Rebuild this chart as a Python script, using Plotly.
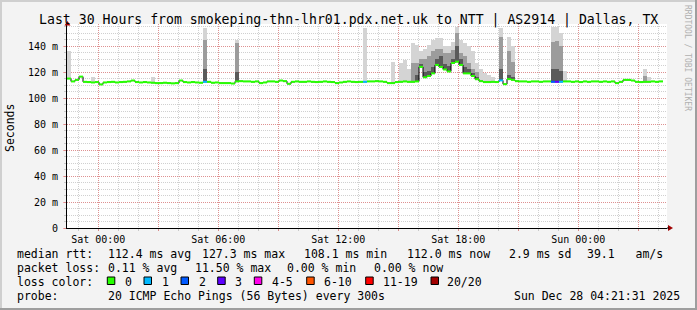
import plotly.graph_objects as go

# ---------------- data ----------------
T0 = -1.565          # hours relative to Sat 00:00 at the left edge
STEP = 0.2           # hours per bin
median_ms = [
    115, 112.8, 114, 116.5, 112.5, 112.3, 112, 112.3, 110.5, 112,
    112.3, 112.5, 112, 112.3, 112.5, 112.8, 113.5, 112.3, 112, 112.3,
    112, 111.8, 111.5, 111.5, 111.8, 111.5, 111.3, 111.5, 113.5, 112.3,
    112, 112.3, 112, 111.8, 112.5, 112.5, 111.8, 112, 111.5, 111.5,
    111.5, 111.2, 112.8, 113, 112.8, 112.8, 112.5, 112.8, 111.5, 112,
    112.8, 112.8, 112.5, 113.5, 113, 111, 112.5, 112.8, 112.5, 112.5,
    112.8, 112.5, 112.3, 112.5, 112.8, 112.5, 112.3, 111.5, 112, 112.5,
    112.8, 112.5, 112.3, 112.5, 112.5, 112.8, 112.8, 113, 112.8, 112.5,
    111.5, 111.5, 112.3, 112.5, 112.8, 112.5, 112.5, 112.8, 124, 116,
    117, 119, 125.5, 124, 122, 120.5, 127, 128, 125.5, 119,
    119, 117, 114.5, 113, 112.3, 112.3, 112.5, 112.3, 113.6, 110.7,
    114.6, 114, 113, 112.8, 112.8, 112.5, 112.8, 112.8, 112.5, 112.8,
    112.8, 112.5, 112.5, 112.5, 112.8, 112.8, 112.5, 112.8, 112.3, 112.8,
    112.5, 112.8, 112.8, 112.5, 112.8, 112.5, 112.8, 111.5, 112.5, 114,
    114, 113.5, 112.5, 112.3, 112.5, 112.5, 112.8, 112.5, 112.8, None,
]
smoke_bin   = [0, 6, 21, 34, 42, 74, 81, 83, 84, 85, 86, 87, 88, 89, 90, 91, 92, 93, 94, 95,
               96, 97, 98, 99, 100, 101, 102, 103, 104, 105, 106, 108, 110, 111, 121, 122, 123, 124, 144, 145]
smoke_light = [136, 116, 116, 154, 145, 154, 128, 127, 129, 122, 142, 141, 136, 138, 141, 145, 146, 146, 140, 140,
               143, 155, 145, 142, 140, 136, 127, 122, 119, 118, 116, 154, 147, 140, 155, 155, 150, 121, 122, 116]
smoke_mid   = [0, 0, 0, 145, 142, 0, 0, 0, 0, 0, 127, 127, 130, 130, 132, 136, 138, 138, 135, 135,
               137, 150, 135, 132, 127, 122, 120, 0, 0, 0, 0, 147, 136, 128, 143, 144, 140, 0, 117, 0]
smoke_dark  = [0, 0, 0, 122, 120, 0, 0, 0, 0, 0, 0, 118, 126, 120, 121, 124, 130, 132, 126, 125,
               130, 140, 130, 124, 122, 119, 116, 0, 0, 0, 0, 122, 118, 116, 122, 122, 121, 0, 0, 0]
loss_bin   = [34, 74, 108, 121, 122, 123]
loss_count = [1, 1, 1, 2, 3, 1]

loss_labels = ["0", "1", "2", "3", "4-5", "6-10", "11-19", "20/20"]
loss_colors = ["#26ff00", "#00b8ff", "#0059ff", "#5e00ff", "#ff00ea", "#ff5500", "#ff0000", "#a10000"]

x_tick_vals = [0, 3, 6, 9, 12, 15, 18, 21, 24, 27]
x_tick_text = ["Sat 00:00", "", "Sat 06:00", "", "Sat 12:00", "", "Sat 18:00", "", "Sun 00:00", ""]
y_tick_vals = [0, 20, 40, 60, 80, 100, 120, 140]
y_tick_text = ["0", "20 m", "40 m", "60 m", "80 m", "100 m", "120 m", "140 m"]

title = "Last 30 Hours from smokeping-thn-lhr01.pdx.net.uk to NTT | AS2914 | Dallas, TX"
rtt_items = [("median rtt:", 16), ("112.4 ms avg", 107.3), ("127.3 ms max", 200.7), ("108.1 ms min", 302.7),
             ("112.0 ms now", 406), ("2.9 ms sd", 507.7), ("39.1   am/s", 586)]
loss_items = [("packet loss:", 16), ("0.11 % avg", 107.3), ("11.50 % max", 194), ("0.00 % min", 286),
              ("0.00 % now", 372.7)]
probe_items = [("probe:", 16), ("20 ICMP Echo Pings (56 Bytes) every 300s", 107.3),
               ("Sun Dec 28 04:21:31 2025", 513.3)]

# ---------------- geometry ----------------
W, H = 697, 310
ML, MR, MT, MB = 67, 30, 24, 82
PW, PH = W - ML - MR, H - MT - MB
FONT = "DejaVu Sans Mono"


def px(x):
    return (x - ML) / PW


def py(y):
    return (H - MB - y) / PH


def loss_class(n):
    if n <= 3:
        return n
    if n <= 5:
        return 4
    if n <= 10:
        return 5
    if n <= 19:
        return 6
    return 7


NB = len(median_ms)
starts = [T0 + STEP * i for i in range(NB + 1)]

fig = go.Figure()

# smoke bands
for tops, col in ((smoke_light, "#d4d4d4"), (smoke_mid, "#9c9c9c"), (smoke_dark, "#5a5a5a")):
    bx, by, bb = [], [], []
    for b, t in zip(smoke_bin, tops):
        if t and median_ms[b] is not None and t > median_ms[b]:
            bx.append(starts[b] + STEP / 2)
            bb.append(median_ms[b])
            by.append(t - median_ms[b])
    fig.add_trace(go.Bar(x=bx, y=by, base=bb, width=STEP, marker_color=col,
                         marker_line_width=0, hoverinfo="skip", showlegend=False))

# median step line (black connectors)
valid = [i for i in range(NB) if median_ms[i] is not None]
lx = [starts[i] for i in valid] + [starts[valid[-1] + 1]]
ly = [median_ms[i] for i in valid] + [median_ms[valid[-1]]]
fig.add_trace(go.Scatter(x=lx, y=ly, mode="lines", line=dict(color="#000000", width=1, shape="hv"),
                         hoverinfo="skip", showlegend=False))

# loss-coloured median segments
loss_of = {b: c for b, c in zip(loss_bin, loss_count)}
seg = {}
for i in valid:
    k = loss_class(loss_of.get(i, 0))
    sx, sy = seg.setdefault(k, ([], []))
    sx += [starts[i], starts[i + 1], None]
    sy += [median_ms[i], median_ms[i], None]
for k, (sx, sy) in sorted(seg.items()):
    fig.add_trace(go.Scatter(x=sx, y=sy, mode="lines", line=dict(color=loss_colors[k], width=2),
                             hoverinfo="skip", showlegend=False))

# ---------------- layout ----------------
MAJ = "rgba(255,0,0,0.30)"
MIN = "rgba(150,150,150,0.45)"
fig.update_layout(
    width=W, height=H, autosize=False,
    margin=dict(l=ML, r=MR, t=MT, b=MB, pad=0),
    paper_bgcolor="#f3f3f3", plot_bgcolor="#ffffff",
    barmode="overlay", bargap=0, showlegend=False,
    font=dict(family=FONT, size=10, color="#000000"),
    xaxis=dict(range=[T0, T0 + STEP * NB], tickmode="array", tickvals=x_tick_vals, ticktext=x_tick_text,
               showgrid=True, gridcolor=MAJ, griddash="1px,1px", gridwidth=1,
               ticks="outside", ticklen=2, tickcolor=MAJ, showline=True, linecolor="#000000", linewidth=1,
               zeroline=False, tickfont=dict(family=FONT, size=10),
               minor=dict(tick0=0, dtick=1, showgrid=True, gridcolor=MIN, griddash="1px,1px",
                          ticks="outside", ticklen=2, tickcolor=MIN)),
    yaxis=dict(range=[0, 157], tickmode="array", tickvals=y_tick_vals, ticktext=y_tick_text,
               showgrid=True, gridcolor=MAJ, griddash="1px,1px", gridwidth=1,
               ticks="outside", ticklen=3, tickcolor=MAJ, showline=True, linecolor="#000000", linewidth=1,
               zeroline=False, tickfont=dict(family=FONT, size=10), ticklabelstandoff=3,
               minor=dict(tick0=0, dtick=5, showgrid=True, gridcolor=MIN, griddash="1px,1px",
                          ticks="outside", ticklen=2, tickcolor=MIN)),
)

shapes = []
# frame shading
shapes.append(dict(type="rect", xref="paper", yref="paper", x0=px(0), x1=px(W), y0=py(2), y1=py(0),
                   fillcolor="#cfcfcf", line_width=0, layer="above"))
shapes.append(dict(type="rect", xref="paper", yref="paper", x0=px(0), x1=px(2), y0=py(H), y1=py(0),
                   fillcolor="#cfcfcf", line_width=0, layer="above"))
shapes.append(dict(type="rect", xref="paper", yref="paper", x0=px(0), x1=px(W), y0=py(H), y1=py(H - 2),
                   fillcolor="#9e9e9e", line_width=0, layer="above"))
shapes.append(dict(type="rect", xref="paper", yref="paper", x0=px(W - 2), x1=px(W), y0=py(H), y1=py(0),
                   fillcolor="#9e9e9e", line_width=0, layer="above"))
# axis arrows
shapes.append(dict(type="path", xref="paper", yref="paper",
                   path=f"M {px(64.5)} {py(25.5)} L {px(67.5)} {py(21)} L {px(70.5)} {py(25.5)} Z",
                   fillcolor="#a00000", line=dict(color="#a00000", width=0), layer="above"))
shapes.append(dict(type="path", xref="paper", yref="paper",
                   path=f"M {px(668)} {py(225)} L {px(673)} {py(228)} L {px(668)} {py(231)} Z",
                   fillcolor="#a00000", line=dict(color="#a00000", width=0), layer="above"))
shapes.append(dict(type="line", xref="paper", yref="paper", x0=px(667), x1=px(669), y0=py(228), y1=py(228),
                   line=dict(color="#000000", width=1), layer="above"))

annots = []


def text(s, x, y, size=11.5, anchor="left", color="#000000", angle=0):
    annots.append(dict(text=s.replace(" ", "&nbsp;"), xref="paper", yref="paper", x=px(x), y=py(y),
                       xanchor=anchor, yanchor="middle", showarrow=False, textangle=angle,
                       font=dict(family=FONT, size=size, color=color), borderpad=0))


text(title, 348.5, 19.5, size=13.2, anchor="center")
text("Seconds", 10, 128, size=11.5, anchor="center", angle=-90)
text("RRDTOOL / TOBI OETIKER", 687, 58, size=8, anchor="center", color="#b0b0b0", angle=90)
for s, x in rtt_items:
    text(s, x, 253.5)
for s, x in loss_items:
    text(s, x, 268)
text("loss color:", 16, 281.5)
sq_x = [107.3, 144, 181, 217.7, 254.3, 306.7, 365.7, 431]
lb_x = [124, 160.7, 197.7, 234.3, 271, 323.3, 382.3, 445.7]
for lab, col, sx, lx_ in zip(loss_labels, loss_colors, sq_x, lb_x):
    shapes.append(dict(type="rect", xref="paper", yref="paper", x0=px(sx), x1=px(sx + 7.5),
                       y0=py(284.5), y1=py(277), fillcolor=col, line=dict(color="#000000", width=1),
                       layer="above"))
    text(lab, lx_, 281.5)
for s, x in probe_items:
    text(s, x, 295.5)

fig.update_layout(shapes=shapes, annotations=annots)
fig.write_html("out.html")
